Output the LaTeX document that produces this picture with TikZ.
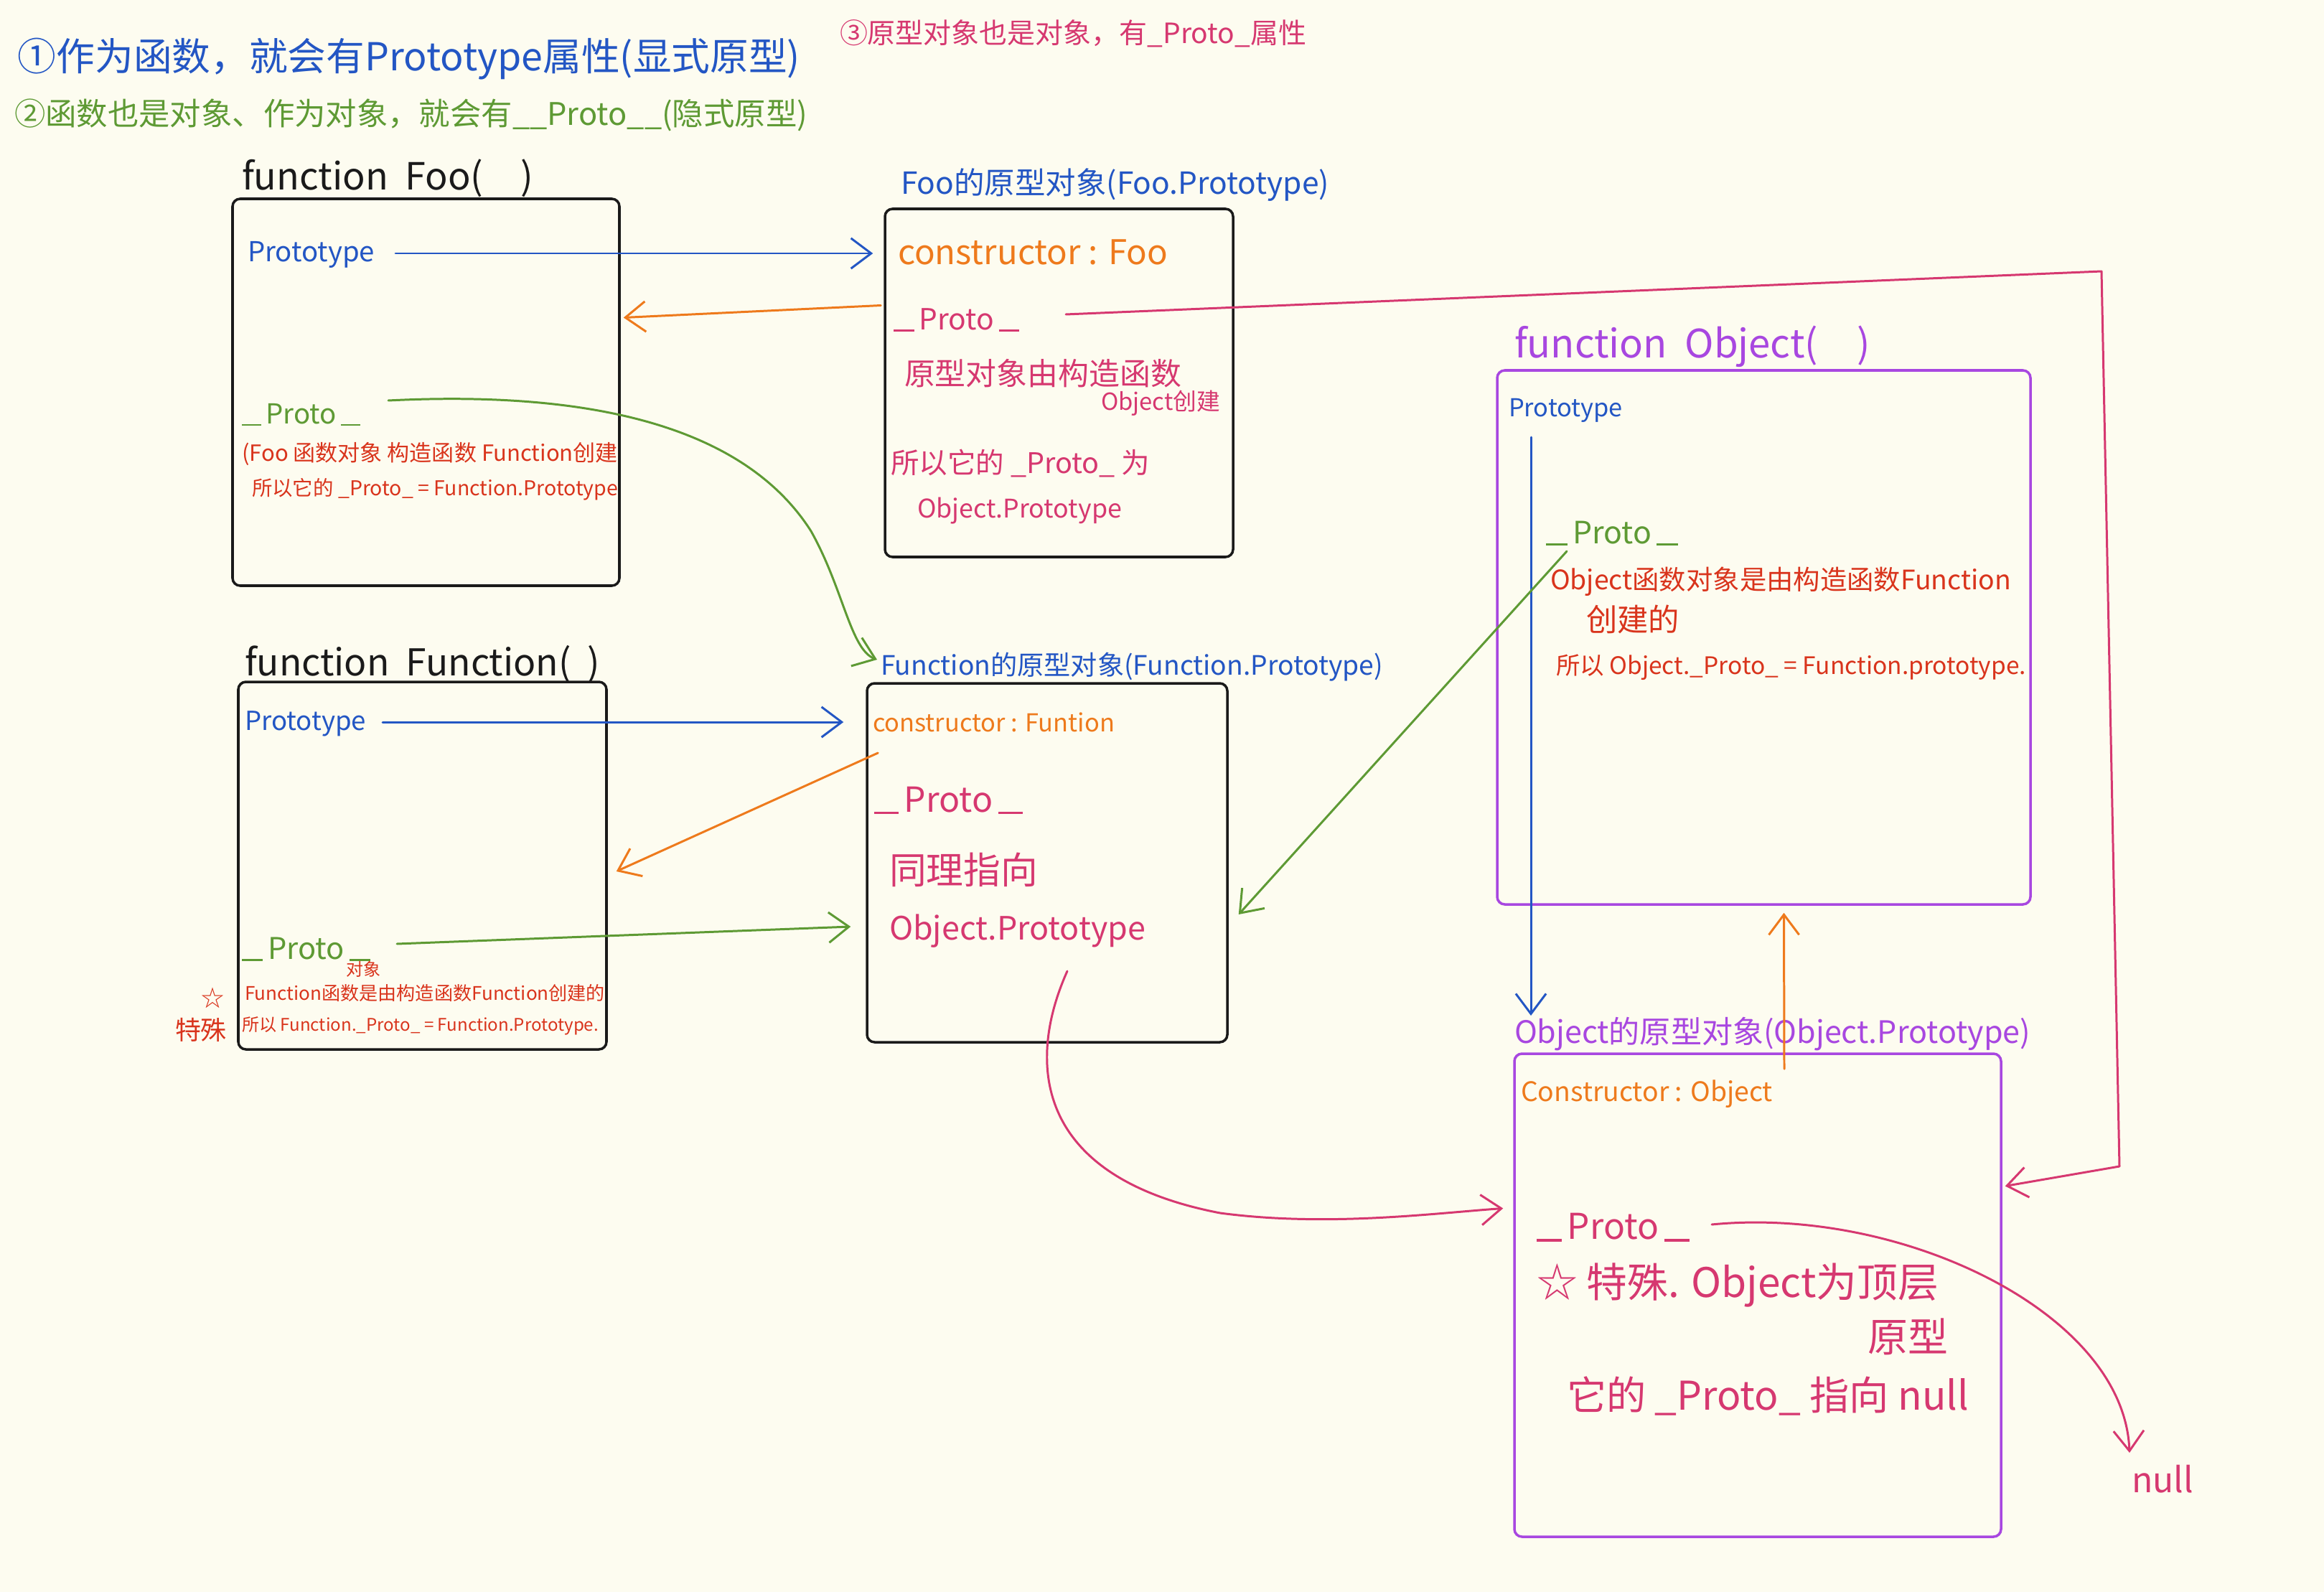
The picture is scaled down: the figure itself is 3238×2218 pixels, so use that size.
\documentclass[tikz,border=0pt]{standalone}
\usepackage{fontspec}
\setmainfont{Noto Sans CJK SC}
\usepackage{graphicx}
\usetikzlibrary{arrows.meta,calc,fit}
\definecolor{bg}{HTML}{FDFCF0}
\definecolor{hblue}{HTML}{2356C4}
\definecolor{hgreen}{HTML}{5E9A34}
\definecolor{horange}{HTML}{EE7A1C}
\definecolor{hpink}{HTML}{D63870}
\definecolor{hred}{HTML}{D9341C}
\definecolor{hpurple}{HTML}{A847E0}
\definecolor{hblack}{HTML}{1A1A1A}
\newlength\pxu \setlength\pxu{0.01cm}
\newcommand{\fw}[2]{\resizebox{#1\pxu}{!}{#2}}
\newcommand{\dsh}{\rule[-0.06em]{0.7em}{0.07em}}
\newcommand{\prt}{\dsh\,Proto\,\dsh}
\begin{document}
\begin{tikzpicture}[x=0.01cm,y=-0.01cm,
  lbl/.style={anchor=west, inner sep=0pt, outer sep=0pt},
  box/.style={draw=hblack, line width=1pt, rounded corners=3pt, inner sep=0pt},
  pbox/.style={box, draw=hpurple},
  conn/.style={line width=0.85pt, line cap=round, line join=round,
    -{Straight Barb[length=8pt,width=12pt,line width=0.85pt]}}]
\useasboundingbox (0,0) rectangle (3238,2218);
\fill[bg] (0,0) rectangle (3238,2218);

% headers
\node[lbl, text=hblue] (h1) at (25,82) {\fw{1090}{①作为函数，就会有Prototype属性(显式原型)}};
\node[lbl, text=hgreen] (h2) at (20,160) {\fw{1105}{②函数也是对象、作为对象，就会有\_\_Proto\_\_(隐式原型)}};
\node[lbl, text=hpink] (h3) at (1170,47) {\fw{650}{③原型对象也是对象，有\_Proto\_属性}};

% boxes
\node[box, fit={(324,277)(863,816)}] (foo) {};
\node[box, fit={(1233,291)(1718,776)}] (fpbox) {};
\node[box, fit={(332,950)(845,1462)}] (fn) {};
\node[box, fit={(1208,952)(1710,1452)}] (fnpbox) {};
\node[pbox, fit={(2086,516)(2829,1260)}] (objbox) {};
\node[pbox, fit={(2110,1468)(2788,2141)}] (opbox) {};

% titles
\node[lbl, text=hblack] (fooT) at (337,248) {\fw{406}{function\ \ Foo(\quad )}};
\node[lbl, text=hblue] (fpT) at (1255,258) {\fw{597}{Foo的原型对象(Foo.Prototype)}};
\node[lbl, text=hblack] (fnT) at (341,925) {\fw{495}{function\ \ Function(\ \ )}};
\node[lbl, text=hblue] (fnpT) at (1227,929) {\fw{700}{Function的原型对象(Function.Prototype)}};
\node[lbl, text=hpurple] (objT) at (2110,483) {\fw{496}{function\ \ Object(\quad )}};
\node[lbl, text=hpurple] (opT) at (2110,1441) {\fw{719}{Object的原型对象(Object.Prototype)}};

% Foo box
\node[lbl, text=hblue] (fooP) at (345,355) {\fw{177}{Prototype}};
\node[lbl, text=hgreen] (fooPr) at (337,578) {\fw{165}{\prt}};
\node[lbl, text=hred] (fooN1) at (337,632) {\fw{524}{(Foo 函数对象 构造函数 Function创建}};
\node[lbl, text=hred] (fooN2) at (351,682) {\fw{510}{所以它的 \_Proto\_ = Function.Prototype}};

% Foo.prototype box
\node[lbl, text=horange] (fpC) at (1251,351) {\fw{376}{constructor : Foo}};
\node[lbl, text=hpink] (fpPr) at (1245,446) {\fw{175}{\prt}};
\node[lbl, text=hpink] (fpN1) at (1260,520) {\fw{386}{原型对象由构造函数}};
\node[lbl, text=hpink] (fpN2) at (1534,562) {\fw{166}{Object创建}};
\node[lbl, text=hpink] (fpN3) at (1241,646) {\fw{361}{所以它的 \_Proto\_ 为}};
\node[lbl, text=hpink] (fpN4) at (1278,712) {\fw{285}{Object.Prototype}};

% Function box
\node[lbl, text=hblue] (fnP) at (341,1008) {\fw{169}{Prototype}};
\node[lbl, text=hgreen] (fnPr) at (337,1322) {\fw{179}{\prt}};
\node[lbl, text=hred] (fnSm) at (482,1350) {\fw{48}{对象}};
\node[lbl, text=hred] (fnN1) at (341,1384) {\fw{502}{Function函数是由构造函数Function创建的}};
\node[lbl, text=hred] (fnN2) at (337,1429) {\fw{497}{所以 Function.\_Proto\_ = Function.Prototype.}};
\node[lbl, text=hred] (star1) at (280,1390) {\fw{32}{☆}};
\node[lbl, text=hred] (spec1) at (244,1435) {\fw{72}{特殊}};

% Function.prototype box
\node[lbl, text=horange] (fnpC) at (1216,1006) {\fw{337}{constructor : Funtion}};
\node[lbl, text=hpink] (fnpPr) at (1218,1115) {\fw{207}{\prt}};
\node[lbl, text=hpink] (fnpN1) at (1239,1212) {\fw{207}{同理指向}};
\node[lbl, text=hpink] (fnpN2) at (1239,1297) {\fw{357}{Object.Prototype}};

% Object box
\node[lbl, text=hblue] (objP) at (2102,572) {\fw{159}{Prototype}};
\node[lbl, text=hgreen] (objPr) at (2154,743) {\fw{184}{\prt}};
\node[lbl, text=hred] (objN1) at (2160,810) {\fw{642}{Object函数对象是由构造函数Function}};
\node[lbl, text=hred] (objN2) at (2210,863) {\fw{130}{创建的}};
\node[lbl, text=hred] (objN3) at (2168,930) {\fw{655}{所以 Object.\_Proto\_ = Function.prototype.}};

% Object.prototype box
\node[lbl, text=horange] (opC) at (2119,1524) {\fw{351}{Constructor : Object}};
\node[lbl, text=hpink] (opPr) at (2141,1710) {\fw{213}{\prt}};
\node[lbl, text=hpink] (opN1) at (2141,1790) {\fw{560}{☆ 特殊. Object为顶层}};
\node[lbl, text=hpink] (opN2) at (2602,1862) {\fw{112}{原型}};
\node[lbl, text=hpink] (opN3) at (2183,1945) {\fw{560}{它的 \_Proto\_ 指向 null}};
\node[lbl, text=hpink] (nullT) at (2970,2061) {\fw{86}{null}};

% helper coordinates
\coordinate (g1) at (1130,740);
\coordinate (pk1) at (2928,378);
\coordinate (pk2) at (2953,1625);
\coordinate (pk3) at (1700,1690);
\coordinate (nullarr) at (2967,2024);

% connectors
\draw[conn, hblue] ($(fooP.east)+(29,-2)$) -- ($(fpbox.west |- fooP.east)+(-15,-2)$);
\draw[conn, horange] ($(fpbox.west)+(-4,-108)$) -- ($(foo.east)+(4,-104)$);
\draw[conn, hgreen] ($(fooPr.east)+(39,-20)$) .. controls (900,540) and (1060,630) .. (g1)
   .. controls (1175,820) and (1185,905) .. ($(fnpT.west)+(-5,-10)$);
\draw[conn, hpink] ($(fpPr.east)+(65,-8)$) -- (pk1) -- (pk2) -- ($(opbox.east)+(4,-152)$);
\draw[conn, hblue] ($(fnP.east)+(23,-2)$) -- ($(fnpbox.west |- fnP.east)+(-31,-2)$);
\draw[conn, horange] ($(fnpbox.west)+(17,-153)$) -- ($(fn.east)+(12,8)$);
\draw[conn, hgreen] ($(fnPr.east)+(37,-7)$) -- ($(fnpbox.west)+(-21,89)$);
\draw[conn, hpink] ($(fnpN2.east)+(-109,56)$) .. controls (1430,1480) and (1440,1640) .. (pk3)
   .. controls (1850,1710) and (2000,1690) .. ($(opbox.west)+(-14,-121)$);
\draw[conn, hblue] ($(objP.west)+(31,37)$) -- ($(opT.west)+(23,-26)$);
\draw[conn, hgreen] ($(objPr.west)+(29,25)$) -- ($(fnpbox.east)+(14,72)$);
\draw[conn, horange] ($(opbox.north)+(37,23)$) -- ($(objbox.south)+(28,10)$);
\draw[conn, hpink] ($(opPr.east)+(31,-4)$) .. controls (2650,1680) and (2960,1830) .. (nullarr);
\end{tikzpicture}
\end{document}
